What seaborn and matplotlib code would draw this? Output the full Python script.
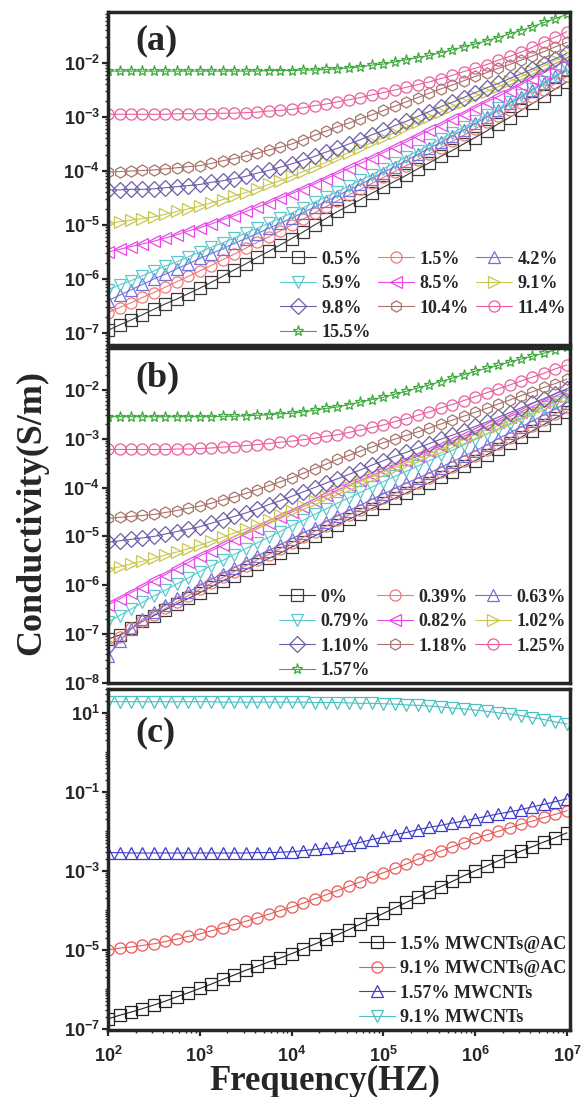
import numpy as np
import matplotlib
matplotlib.use('Agg')
import matplotlib.pyplot as plt
import matplotlib.ticker as mticker
import seaborn as sns

# frequency grid, log10(Hz)
log_freq = [2.0, 2.125, 2.25, 2.375, 2.5, 2.625, 2.75, 2.875, 3.0, 3.125, 3.25, 3.375,
            3.5, 3.625, 3.75, 3.875, 4.0, 4.125, 4.25, 4.375, 4.5, 4.625, 4.75, 4.875,
            5.0, 5.125, 5.25, 5.375, 5.5, 5.625, 5.75, 5.875, 6.0, 6.125, 6.25, 6.375,
            6.5, 6.625, 6.75, 6.875, 7.0]

# ---- panel (a): log10 conductivity (S/m)
labels_a = ['0.5%', '1.5%', '4.2%', '5.9%', '8.5%', '9.1%', '9.8%', '10.4%', '11.4%', '15.5%']
a_05 = [-6.95, -6.85, -6.76, -6.66, -6.56, -6.46, -6.37, -6.27, -6.17, -6.06, -5.95, -5.83,
        -5.72, -5.60, -5.49, -5.37, -5.25, -5.13, -5.00, -4.88, -4.75, -4.64, -4.53, -4.41,
        -4.30, -4.19, -4.08, -3.96, -3.85, -3.73, -3.62, -3.50, -3.38, -3.26, -3.13, -3.01,
        -2.88, -2.75, -2.62, -2.48, -2.35]
a_15 = [-6.62, -6.53, -6.44, -6.34, -6.25, -6.15, -6.05, -5.95, -5.85, -5.75, -5.64, -5.54,
        -5.43, -5.32, -5.22, -5.11, -5.00, -4.89, -4.78, -4.66, -4.55, -4.44, -4.34, -4.23,
        -4.12, -4.01, -3.90, -3.79, -3.68, -3.57, -3.45, -3.34, -3.22, -3.10, -2.99, -2.87,
        -2.75, -2.63, -2.50, -2.38, -2.25]
a_42 = [-6.40, -6.30, -6.20, -6.10, -6.00, -5.91, -5.81, -5.72, -5.62, -5.53, -5.44, -5.34,
        -5.25, -5.16, -5.06, -4.97, -4.87, -4.77, -4.67, -4.56, -4.46, -4.35, -4.25, -4.14,
        -4.03, -3.92, -3.81, -3.69, -3.58, -3.47, -3.35, -3.24, -3.12, -3.00, -2.88, -2.75,
        -2.63, -2.50, -2.38, -2.25, -2.12]
a_59 = [-6.20, -6.11, -6.03, -5.94, -5.85, -5.76, -5.68, -5.59, -5.50, -5.41, -5.33, -5.24,
        -5.15, -5.06, -4.97, -4.87, -4.78, -4.68, -4.58, -4.48, -4.38, -4.28, -4.17, -4.07,
        -3.96, -3.85, -3.74, -3.63, -3.52, -3.41, -3.30, -3.19, -3.08, -2.96, -2.84, -2.72,
        -2.60, -2.48, -2.35, -2.23, -2.10]
a_85 = [-5.50, -5.45, -5.40, -5.35, -5.30, -5.24, -5.18, -5.11, -5.05, -4.98, -4.90, -4.83,
        -4.75, -4.67, -4.59, -4.50, -4.42, -4.33, -4.24, -4.14, -4.05, -3.95, -3.86, -3.76,
        -3.66, -3.56, -3.46, -3.35, -3.25, -3.15, -3.04, -2.94, -2.83, -2.72, -2.62, -2.51,
        -2.40, -2.29, -2.18, -2.06, -1.95]
a_91 = [-4.97, -4.94, -4.91, -4.88, -4.85, -4.80, -4.75, -4.70, -4.65, -4.59, -4.53, -4.46,
        -4.40, -4.33, -4.25, -4.18, -4.10, -4.01, -3.93, -3.84, -3.75, -3.66, -3.57, -3.47,
        -3.38, -3.29, -3.19, -3.10, -3.00, -2.91, -2.81, -2.72, -2.62, -2.53, -2.44, -2.34,
        -2.25, -2.15, -2.05, -1.95, -1.85]
a_98 = [-4.35, -4.35, -4.34, -4.34, -4.33, -4.31, -4.29, -4.27, -4.25, -4.21, -4.18, -4.14,
        -4.10, -4.04, -3.99, -3.93, -3.87, -3.80, -3.73, -3.65, -3.58, -3.50, -3.42, -3.33,
        -3.25, -3.16, -3.08, -2.99, -2.90, -2.81, -2.73, -2.64, -2.55, -2.46, -2.38, -2.29,
        -2.20, -2.11, -2.01, -1.92, -1.82]
a_104 = [-4.02, -4.01, -4.00, -3.99, -3.98, -3.96, -3.94, -3.92, -3.90, -3.86, -3.81, -3.77,
         -3.72, -3.67, -3.61, -3.56, -3.50, -3.42, -3.34, -3.26, -3.18, -3.11, -3.03, -2.96,
         -2.88, -2.80, -2.72, -2.64, -2.56, -2.48, -2.41, -2.33, -2.25, -2.18, -2.10, -2.03,
         -1.95, -1.87, -1.79, -1.70, -1.62]
a_114 = [-2.95, -2.95, -2.95, -2.95, -2.95, -2.95, -2.94, -2.94, -2.94, -2.94, -2.93, -2.93,
         -2.92, -2.91, -2.89, -2.88, -2.86, -2.83, -2.79, -2.76, -2.72, -2.68, -2.64, -2.59,
         -2.55, -2.50, -2.45, -2.40, -2.35, -2.29, -2.23, -2.16, -2.10, -2.03, -1.95, -1.88,
         -1.80, -1.71, -1.61, -1.52, -1.42]
a_155 = [-2.15, -2.15, -2.15, -2.15, -2.15, -2.15, -2.15, -2.15, -2.15, -2.15, -2.15, -2.15,
         -2.15, -2.15, -2.14, -2.14, -2.14, -2.13, -2.13, -2.12, -2.11, -2.09, -2.07, -2.04,
         -2.02, -1.98, -1.94, -1.90, -1.86, -1.81, -1.76, -1.70, -1.65, -1.59, -1.53, -1.46,
         -1.40, -1.33, -1.25, -1.18, -1.10]

# ---- panel (b)
labels_b = ['0%', '0.39%', '0.63%', '0.79%', '0.82%', '1.02%', '1.10%', '1.18%', '1.25%', '1.57%']
b_000 = [-7.10, -7.02, -6.88, -6.74, -6.62, -6.50, -6.38, -6.27, -6.15, -6.03, -5.91, -5.80,
         -5.68, -5.57, -5.45, -5.34, -5.22, -5.11, -4.99, -4.88, -4.76, -4.65, -4.54, -4.43,
         -4.32, -4.22, -4.11, -4.01, -3.90, -3.79, -3.68, -3.56, -3.45, -3.33, -3.21, -3.09,
         -2.97, -2.84, -2.71, -2.58, -2.45]
b_039 = [-7.24, -7.05, -6.88, -6.74, -6.60, -6.47, -6.34, -6.21, -6.08, -5.96, -5.84, -5.72,
         -5.60, -5.48, -5.37, -5.25, -5.13, -5.02, -4.90, -4.79, -4.67, -4.56, -4.45, -4.33,
         -4.22, -4.12, -4.01, -3.91, -3.80, -3.69, -3.58, -3.46, -3.35, -3.23, -3.11, -2.99,
         -2.87, -2.74, -2.62, -2.49, -2.36]
b_063 = [-7.45, -7.15, -6.90, -6.70, -6.55, -6.41, -6.27, -6.14, -6.00, -5.88, -5.76, -5.64,
         -5.52, -5.40, -5.29, -5.17, -5.05, -4.93, -4.82, -4.70, -4.58, -4.47, -4.36, -4.24,
         -4.13, -4.02, -3.91, -3.81, -3.70, -3.59, -3.47, -3.36, -3.25, -3.13, -3.00, -2.88,
         -2.76, -2.64, -2.51, -2.39, -2.26]
b_079 = [-6.75, -6.62, -6.49, -6.35, -6.22, -6.10, -5.97, -5.85, -5.72, -5.60, -5.49, -5.37,
         -5.25, -5.13, -5.02, -4.90, -4.78, -4.67, -4.55, -4.44, -4.32, -4.21, -4.10, -3.99,
         -3.88, -3.77, -3.67, -3.56, -3.45, -3.34, -3.24, -3.13, -3.02, -2.91, -2.80, -2.69,
         -2.58, -2.47, -2.35, -2.24, -2.12]
b_082 = [-6.40, -6.28, -6.15, -6.03, -5.90, -5.78, -5.65, -5.53, -5.40, -5.29, -5.18, -5.06,
         -4.95, -4.84, -4.73, -4.61, -4.50, -4.39, -4.28, -4.16, -4.05, -3.95, -3.85, -3.75,
         -3.65, -3.55, -3.45, -3.35, -3.25, -3.15, -3.05, -2.95, -2.85, -2.75, -2.65, -2.55,
         -2.45, -2.34, -2.24, -2.13, -2.02]
b_102 = [-5.67, -5.62, -5.56, -5.51, -5.45, -5.38, -5.32, -5.25, -5.18, -5.10, -5.02, -4.93,
         -4.85, -4.76, -4.67, -4.57, -4.48, -4.38, -4.28, -4.18, -4.08, -3.98, -3.88, -3.78,
         -3.68, -3.59, -3.49, -3.40, -3.30, -3.21, -3.11, -3.02, -2.92, -2.82, -2.73, -2.63,
         -2.53, -2.43, -2.33, -2.22, -2.12]
b_110 = [-5.12, -5.09, -5.06, -5.03, -5.00, -4.95, -4.90, -4.85, -4.80, -4.73, -4.66, -4.59,
         -4.52, -4.44, -4.35, -4.27, -4.18, -4.09, -4.00, -3.91, -3.82, -3.73, -3.64, -3.54,
         -3.45, -3.36, -3.28, -3.19, -3.10, -3.01, -2.93, -2.84, -2.75, -2.66, -2.56, -2.47,
         -2.37, -2.27, -2.18, -2.08, -1.98]
b_118 = [-4.63, -4.61, -4.59, -4.57, -4.55, -4.51, -4.47, -4.42, -4.38, -4.32, -4.25, -4.19,
         -4.12, -4.04, -3.96, -3.88, -3.80, -3.71, -3.61, -3.52, -3.42, -3.34, -3.25, -3.17,
         -3.08, -3.01, -2.93, -2.86, -2.78, -2.70, -2.62, -2.54, -2.46, -2.38, -2.29, -2.21,
         -2.12, -2.04, -1.95, -1.87, -1.78]
b_125 = [-3.22, -3.22, -3.22, -3.22, -3.22, -3.22, -3.21, -3.21, -3.20, -3.19, -3.17, -3.16,
         -3.14, -3.12, -3.10, -3.07, -3.05, -3.02, -2.99, -2.95, -2.92, -2.87, -2.82, -2.77,
         -2.72, -2.65, -2.59, -2.52, -2.45, -2.37, -2.30, -2.22, -2.14, -2.06, -1.98, -1.90,
         -1.82, -1.74, -1.66, -1.57, -1.49]
b_157 = [-2.55, -2.55, -2.55, -2.55, -2.55, -2.55, -2.55, -2.55, -2.55, -2.55, -2.54, -2.54,
         -2.53, -2.52, -2.51, -2.49, -2.48, -2.45, -2.42, -2.38, -2.35, -2.30, -2.25, -2.20,
         -2.15, -2.09, -2.03, -1.96, -1.90, -1.83, -1.76, -1.69, -1.62, -1.56, -1.50, -1.43,
         -1.37, -1.31, -1.25, -1.18, -1.12]

# ---- panel (c)
labels_c = ['1.5% MWCNTs@AC', '9.1% MWCNTs@AC', '1.57% MWCNTs', '9.1% MWCNTs']
c_15_ac = [-6.75, -6.66, -6.58, -6.49, -6.40, -6.30, -6.19, -6.09, -5.98, -5.87, -5.75, -5.64,
           -5.52, -5.42, -5.31, -5.21, -5.10, -4.98, -4.86, -4.74, -4.62, -4.49, -4.35, -4.22,
           -4.08, -3.94, -3.80, -3.67, -3.53, -3.40, -3.27, -3.13, -3.00, -2.88, -2.75, -2.63,
           -2.50, -2.39, -2.27, -2.16, -2.04]
c_91_ac = [-5.00, -4.96, -4.93, -4.89, -4.85, -4.79, -4.73, -4.66, -4.60, -4.52, -4.44, -4.36,
           -4.28, -4.19, -4.10, -4.01, -3.92, -3.82, -3.71, -3.61, -3.50, -3.39, -3.28, -3.16,
           -3.05, -2.94, -2.83, -2.71, -2.60, -2.50, -2.39, -2.29, -2.18, -2.09, -2.00, -1.91,
           -1.82, -1.74, -1.65, -1.57, -1.48]
c_157_cnt = [-2.54, -2.54, -2.55, -2.55, -2.55, -2.55, -2.55, -2.55, -2.55, -2.55, -2.55, -2.55,
             -2.55, -2.54, -2.54, -2.53, -2.52, -2.49, -2.46, -2.43, -2.40, -2.34, -2.28, -2.21,
             -2.15, -2.09, -2.03, -1.96, -1.90, -1.85, -1.79, -1.74, -1.68, -1.62, -1.56, -1.51,
             -1.45, -1.38, -1.32, -1.25, -1.18]
c_91_cnt = [1.28, 1.28, 1.28, 1.28, 1.28, 1.28, 1.28, 1.28, 1.28, 1.28, 1.27, 1.27,
            1.27, 1.27, 1.27, 1.27, 1.27, 1.27, 1.26, 1.26, 1.26, 1.25, 1.24, 1.24,
            1.23, 1.22, 1.20, 1.19, 1.17, 1.15, 1.12, 1.10, 1.07, 1.04, 1.00, 0.97,
            0.93, 0.88, 0.83, 0.77, 0.72]

markers_ab = ['s', 'o', '^', 'v', '<', '>', 'D', 'h', 'o', '*']
colors_ab = ['#3a3a3a', '#f07878', '#7272d8', '#5cc8cc', '#e848e8',
             '#c8c850', '#6e5ea8', '#a8746c', '#e8609c', '#3caa3c']
markers_c = ['s', 'o', '^', 'v']
colors_c = ['#222222', '#e85a5a', '#3c3cc8', '#4cc0c0']

sns.set_style('ticks')
plt.rcParams['font.family'] = ['Liberation Sans', 'DejaVu Sans']
plt.rcParams['mathtext.fontset'] = 'custom'
plt.rcParams['mathtext.rm'] = 'Liberation Sans:bold'
plt.rcParams['mathtext.bf'] = 'Liberation Sans:bold'
serif_bold = {'family': 'Liberation Serif', 'weight': 'bold'}

freq = 10 ** np.array(log_freq)

fig = plt.figure(figsize=(5.81, 10.97), dpi=100)
ax_a = fig.add_axes([0.186, 0.6855, 0.795, 0.3036])
ax_b = fig.add_axes([0.186, 0.3774, 0.795, 0.3054])
ax_c = fig.add_axes([0.186, 0.0611, 0.795, 0.3108])


def pow_fmt(v, pos):
    return r'$\mathbf{10^{%d}}$' % int(round(np.log10(v)))


def draw_panel(ax, series, labels, colors, markers, ylim, majors, tag, tag_y, ncol, order):
    for vals, lab, col, mk in zip(series, labels, colors, markers):
        sns.lineplot(x=freq, y=10 ** np.array(vals), ax=ax, estimator=None,
                     color=col, marker=mk, markersize=8, markerfacecolor='none',
                     markeredgecolor=col, markeredgewidth=0.9, linewidth=0.8, label=lab)
    ax.set_xscale('log')
    ax.set_yscale('log')
    ax.set_xlim(1e2, 1.08e7)
    ax.set_ylim(*ylim)
    ax.yaxis.set_major_locator(mticker.FixedLocator(majors))
    ax.yaxis.set_major_formatter(mticker.FuncFormatter(pow_fmt))
    ax.yaxis.set_minor_locator(mticker.LogLocator(base=10, subs=np.arange(1, 10), numticks=40))
    ax.yaxis.set_minor_formatter(mticker.NullFormatter())
    ax.xaxis.set_major_locator(mticker.LogLocator(base=10, numticks=10))
    ax.xaxis.set_major_formatter(mticker.FuncFormatter(pow_fmt))
    ax.xaxis.set_minor_locator(mticker.LogLocator(base=10, subs=np.arange(2, 10), numticks=40))
    ax.xaxis.set_minor_formatter(mticker.NullFormatter())
    ax.tick_params(which='major', direction='out', length=4.5, width=1.6, labelsize=13, pad=1.5)
    ax.tick_params(which='minor', direction='out', length=2.5, width=1)
    ax.tick_params(top=False, right=False)
    for sp in ax.spines.values():
        sp.set_linewidth(2.5)
    ax.set_xlabel('')
    ax.set_ylabel('')
    ax.text(0.06, tag_y, tag, transform=ax.transAxes, fontdict=serif_bold,
            fontsize=26, va='center', ha='left')
    h, l = ax.get_legend_handles_labels()
    ax.legend([h[i] for i in order], [l[i] for i in order], loc='lower right',
              ncol=ncol, frameon=False,
              prop={'family': 'Liberation Serif', 'weight': 'bold', 'size': 13},
              handlelength=2.0, handletextpad=0.3, columnspacing=0.4, labelspacing=0.42,
              borderaxespad=0.1, borderpad=0.1)


order_ab = [0, 3, 6, 9, 1, 4, 7, 2, 5, 8]
draw_panel(ax_a, [a_05, a_15, a_42, a_59, a_85, a_91, a_98, a_104, a_114, a_155],
           labels_a, colors_ab, markers_ab, (6.0e-8, 8.8e-2),
           [1e-7, 1e-6, 1e-5, 1e-4, 1e-3, 1e-2], '(a)', 0.913, 3, order_ab)
draw_panel(ax_b, [b_000, b_039, b_063, b_079, b_082, b_102, b_110, b_118, b_125, b_157],
           labels_b, colors_ab, markers_ab, (1.0e-8, 7.2e-2),
           [1e-8, 1e-7, 1e-6, 1e-5, 1e-4, 1e-3, 1e-2], '(b)', 0.91, 3, order_ab)
draw_panel(ax_c, [c_15_ac, c_91_ac, c_157_cnt, c_91_cnt],
           labels_c, colors_c, markers_c, (9.3e-8, 40),
           [1e-7, 1e-5, 1e-3, 1e-1, 1e1], '(c)', 0.871, 1, [0, 1, 2, 3])

for ax in (ax_a, ax_b):
    ax.tick_params(axis='x', which='both', bottom=False, labelbottom=False)
ax_c.tick_params(axis='x', which='major', pad=7)

fig.text(0.055, 0.533, 'Conductivity(S/m)', rotation=90, fontdict=serif_bold,
         fontsize=26, va='center', ha='center')
fig.text(0.559, 0.0137, 'Frequency(HZ)', fontdict=serif_bold,
         fontsize=25, va='center', ha='center')

fig.savefig('out.png', dpi=100)
